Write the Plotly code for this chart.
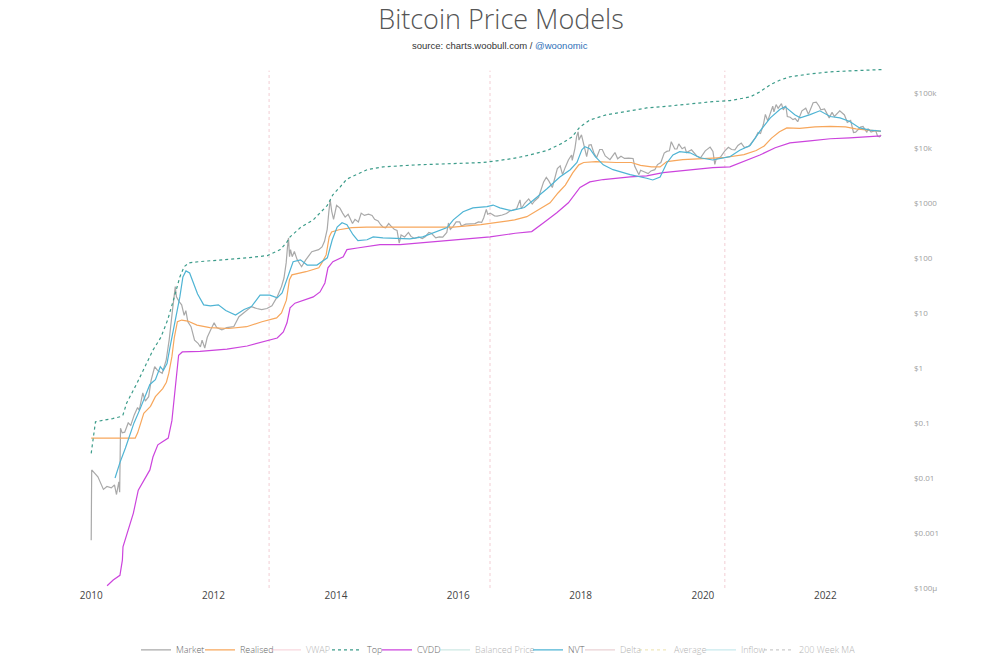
import pandas as pd
import plotly.graph_objects as go

# ---------------- data ----------------
MARKET_DATES = [
    "2010-01-01", "2010-01-04", "2010-02-10", "2010-03-15", "2010-04-05", "2010-05-01", "2010-05-20",
    "2010-06-01", "2010-06-15", "2010-06-20", "2010-06-25", "2010-07-05", "2010-07-20", "2010-08-10",
    "2010-08-25", "2010-09-15", "2010-10-05", "2010-10-15", "2010-11-05", "2010-11-20", "2010-12-10",
    "2010-12-25", "2011-01-15", "2011-02-01", "2011-03-01", "2011-03-25", "2011-04-12", "2011-04-25",
    "2011-05-01", "2011-05-18", "2011-05-25", "2011-06-10", "2011-06-25", "2011-07-10", "2011-07-20",
    "2011-08-01", "2011-08-20", "2011-09-10", "2011-10-01", "2011-10-15", "2011-10-25", "2011-11-10",
    "2011-11-25", "2011-12-15", "2012-01-05", "2012-01-20", "2012-02-20", "2012-03-20", "2012-05-01",
    "2012-06-01", "2012-07-15", "2012-08-15", "2012-09-15", "2012-10-15", "2012-11-15", "2012-12-15",
    "2013-01-15", "2013-02-10", "2013-02-25", "2013-03-10", "2013-03-18", "2013-03-24", "2013-03-30",
    "2013-04-05", "2013-04-15", "2013-04-28", "2013-05-15", "2013-06-10", "2013-07-05", "2013-08-10",
    "2013-09-20", "2013-10-10", "2013-10-25", "2013-11-10", "2013-11-20", "2013-11-28", "2013-12-07",
    "2013-12-18", "2014-01-05", "2014-01-25", "2014-02-10", "2014-02-25", "2014-03-15", "2014-04-10",
    "2014-04-25", "2014-05-15", "2014-06-01", "2014-06-20", "2014-07-15", "2014-08-05", "2014-08-20",
    "2014-09-10", "2014-09-25", "2014-10-10", "2014-10-25", "2014-11-12", "2014-11-25", "2014-12-15",
    "2015-01-01", "2015-01-14", "2015-01-25", "2015-02-15", "2015-03-10", "2015-03-25", "2015-04-15",
    "2015-05-10", "2015-06-01", "2015-06-20", "2015-07-10", "2015-07-25", "2015-08-20", "2015-09-10",
    "2015-10-01", "2015-10-25", "2015-11-04", "2015-11-15", "2015-12-01", "2015-12-20", "2016-01-10",
    "2016-01-20", "2016-02-15", "2016-03-10", "2016-04-10", "2016-05-01", "2016-05-20", "2016-06-01",
    "2016-06-17", "2016-06-25", "2016-07-10", "2016-08-05", "2016-08-20", "2016-09-20", "2016-10-15",
    "2016-11-05", "2016-11-25", "2016-12-15", "2017-01-04", "2017-01-12", "2017-02-01", "2017-02-25",
    "2017-03-18", "2017-04-01", "2017-04-25", "2017-05-10", "2017-05-25", "2017-06-10", "2017-06-25",
    "2017-07-16", "2017-08-01", "2017-08-15", "2017-09-01", "2017-09-15", "2017-10-01", "2017-10-20",
    "2017-11-08", "2017-11-12", "2017-11-28", "2017-12-08", "2017-12-17", "2017-12-22", "2018-01-06",
    "2018-01-20", "2018-02-06", "2018-02-20", "2018-03-05", "2018-03-20", "2018-04-06", "2018-04-25",
    "2018-05-10", "2018-05-28", "2018-06-25", "2018-07-25", "2018-08-10", "2018-08-30", "2018-09-20",
    "2018-10-15", "2018-11-10", "2018-11-20", "2018-12-15", "2018-12-25", "2019-01-15", "2019-02-08",
    "2019-02-25", "2019-03-20", "2019-04-05", "2019-04-25", "2019-05-15", "2019-05-30", "2019-06-15",
    "2019-06-26", "2019-07-17", "2019-07-30", "2019-08-10", "2019-08-30", "2019-09-15", "2019-09-25",
    "2019-10-25", "2019-11-25", "2019-12-18", "2020-01-15", "2020-02-13", "2020-03-01", "2020-03-12",
    "2020-03-20", "2020-04-15", "2020-05-10", "2020-06-01", "2020-06-20", "2020-07-10", "2020-07-28",
    "2020-08-17", "2020-09-05", "2020-10-01", "2020-10-25", "2020-11-10", "2020-11-25", "2020-12-10",
    "2020-12-27", "2021-01-08", "2021-01-22", "2021-02-10", "2021-02-21", "2021-02-28", "2021-03-13",
    "2021-03-25", "2021-04-14", "2021-04-25", "2021-05-10", "2021-05-19", "2021-06-05", "2021-06-22",
    "2021-07-05", "2021-07-20", "2021-08-14", "2021-09-06", "2021-09-22", "2021-10-20", "2021-11-08",
    "2021-11-25", "2021-12-05", "2021-12-27", "2022-01-24", "2022-02-10", "2022-02-24", "2022-03-28",
    "2022-04-25", "2022-05-12", "2022-06-01", "2022-06-18", "2022-07-01", "2022-07-30", "2022-08-14",
    "2022-09-06", "2022-09-12", "2022-10-01", "2022-10-28", "2022-11-09", "2022-11-21", "2022-11-30",
]
MARKET_PRICE = [
    0.00074, 0.014, 0.0105, 0.0062, 0.007, 0.0066, 0.0075,
    0.005, 0.0085, 0.0055, 0.08, 0.066, 0.068, 0.1,
    0.09, 0.14, 0.19, 0.17, 0.35, 0.25, 0.3,
    0.6, 1.05, 0.9, 0.8, 1.4, 3.3, 6.6,
    11, 30, 19.5, 16, 14, 9, 11,
    6.9, 5.6, 3.2, 2.8, 2.4, 3.2, 2.3,
    3.6, 4.9, 6.6, 5.4, 4.9, 5.4, 5.6,
    8.5, 11, 13, 12, 11.5, 12, 13.5,
    19.5, 30, 43, 81, 158, 230, 105,
    141, 105, 130, 92, 69, 92, 129,
    141, 158, 200, 330, 700, 1120, 700,
    500, 900, 800, 650, 550, 620, 420,
    500, 450, 650, 590, 620, 590, 500,
    470, 400, 360, 350, 420, 380, 330,
    315, 185, 260, 240, 290, 245, 225,
    240, 225, 245, 290, 280, 230, 240,
    238, 290, 430, 330, 370, 450, 450,
    380, 410, 415, 420, 450, 440, 530,
    760, 620, 650, 580, 575, 600, 640,
    710, 740, 780, 1130, 780, 980, 1180,
    950, 1080, 1260, 1750, 2400, 2900, 2500,
    1900, 2800, 4200, 4700, 3250, 4400, 6000,
    7400, 5900, 9800, 16000, 19500, 13800, 17200,
    11500, 6900, 11200, 11400, 8200, 6600, 9300,
    9300, 7100, 6100, 8200, 6300, 7000, 6400,
    6500, 6400, 4600, 3250, 3900, 3600, 3400,
    3800, 4000, 4950, 5400, 8000, 8600, 8800,
    12900, 9500, 9500, 11800, 9600, 10300, 8200,
    9200, 7100, 6600, 8800, 10300, 8600, 5000,
    6200, 6800, 8700, 10200, 9300, 9200, 11000,
    12200, 10100, 10600, 13100, 15300, 19000, 18200,
    26500, 40500, 30800, 44800, 57000, 45000, 61000,
    52000, 63500, 49000, 58000, 37000, 36000, 32500,
    34000, 29800, 47000, 52500, 40500, 66000, 67500,
    57000, 49000, 51000, 35000, 44000, 37000, 47000,
    39500, 29000, 31500, 19000, 19300, 23800, 24400,
    19000, 22300, 19400, 20700, 16200, 15800, 17100,
]

REALISED_YEARS = [
    2010.0, 2010.72, 2010.76, 2010.80, 2010.86, 2010.97, 2011.05, 2011.17, 2011.23, 2011.27,
    2011.32, 2011.36, 2011.41, 2011.48, 2011.58, 2011.73, 2011.94, 2012.25, 2012.54, 2012.79,
    2013.03, 2013.11, 2013.19, 2013.24, 2013.28, 2013.51, 2013.72, 2013.77, 2013.84, 2013.89,
    2013.93, 2014.05, 2014.26, 2014.50, 2014.75, 2015.03, 2015.50, 2015.92, 2016.37, 2016.62,
    2016.92, 2017.12, 2017.37, 2017.50, 2017.63, 2017.75, 2017.87, 2017.97, 2018.05, 2018.25,
    2018.58, 2018.83, 2018.98, 2019.16, 2019.30, 2019.41, 2019.67, 2019.92, 2020.33, 2020.67,
    2020.87, 2021.0, 2021.12, 2021.25, 2021.37, 2021.58, 2021.83, 2022.08, 2022.33, 2022.50,
    2022.67, 2022.91,
]
REALISED_PRICE = [
    0.053, 0.053, 0.066, 0.09, 0.15, 0.2, 0.3, 0.42, 0.55, 0.8,
    1.6, 3.6, 6.9, 7.4, 7.1, 6.0, 5.4, 5.2, 5.6, 6.9,
    8.1, 10, 17, 40, 49, 56, 66, 81, 113, 240,
    296, 324, 355, 363, 363, 355, 355, 363, 400, 440,
    490, 560, 820, 1000, 1510, 2100, 3500, 4900, 5400, 5600,
    5400, 5400, 4800, 4500, 4500, 5600, 6100, 6300, 6600, 7500,
    8900, 10800, 15000, 19500, 23000, 22500, 24000, 24500, 24000, 22000,
    21000, 19800,
]

TOP_YEARS = [
    2010.0, 2010.07, 2010.35, 2010.48, 2010.52, 2010.58, 2010.75, 2010.88, 2011.01, 2011.14,
    2011.25, 2011.36, 2011.45, 2011.52, 2011.6, 2011.75, 2012.15, 2012.55, 2012.88, 2013.09,
    2013.2, 2013.25, 2013.42, 2013.63, 2013.86, 2013.95, 2014.07, 2014.18, 2014.51, 2014.77,
    2015.33, 2015.87, 2016.41, 2016.63, 2016.9, 2017.17, 2017.45, 2017.71, 2017.86, 2017.99,
    2018.15, 2018.43, 2018.81, 2019.08, 2019.35, 2019.62, 2019.9, 2020.16, 2020.44, 2020.77,
    2020.93, 2021.1, 2021.26, 2021.42, 2021.75, 2022.08, 2022.4, 2022.73, 2022.96,
]
TOP_PRICE = [
    0.028, 0.105, 0.12, 0.13, 0.14, 0.23, 0.53, 1.05, 2.1, 3.6,
    7.4, 19.5, 45, 69, 81, 85, 92, 100, 110, 141,
    195, 240, 355, 490, 900, 1400, 1950, 2700, 4000, 4500,
    4900, 5100, 5400, 5800, 6400, 7400, 8900, 12300, 15800, 24000,
    32000, 40000, 47000, 53000, 56000, 60000, 66000, 69000, 72000, 84000,
    104000, 140000, 170000, 195000, 220000, 240000, 250000, 262000, 265000,
]

CVDD_YEARS = [
    2010.26, 2010.36, 2010.47, 2010.51, 2010.52, 2010.59, 2010.64, 2010.69, 2010.77, 2010.83,
    2010.92, 2010.96, 2011.01, 2011.09, 2011.16, 2011.26, 2011.32, 2011.37, 2011.41, 2011.43,
    2011.49, 2011.78, 2012.22, 2012.55, 2013.04, 2013.14, 2013.2, 2013.25, 2013.33, 2013.63,
    2013.74, 2013.82, 2013.87, 2013.95, 2014.12, 2014.18, 2014.35, 2014.72, 2015.05, 2015.59,
    2016.14, 2016.52, 2016.93, 2017.2, 2017.4, 2017.61, 2017.8, 2017.99, 2018.15, 2018.37,
    2018.81, 2019.08, 2019.35, 2019.62, 2019.9, 2020.16, 2020.44, 2020.6, 2020.93, 2021.18,
    2021.42, 2021.75, 2022.08, 2022.4, 2022.73, 2022.91,
]
CVDD_PRICE = [
    0.00011, 0.00014, 0.00017, 0.00032, 0.00056, 0.001, 0.0015, 0.0023, 0.006, 0.008,
    0.012, 0.014, 0.024, 0.04, 0.045, 0.053, 0.11, 0.4, 1.2, 1.7,
    1.95, 2.0, 2.2, 2.5, 3.5, 4.5, 6.6, 12.3, 15, 19.5,
    24, 35, 66, 85, 105, 141, 151, 174, 174, 195,
    222, 240, 280, 300, 440, 660, 1000, 1900, 2400, 2650,
    2950, 3100, 3550, 3800, 4150, 4350, 4500, 5300, 7400, 10000,
    12300, 13400, 14600, 15200, 15800, 16500,
]

NVT_YEARS = [
    2010.39, 2010.47, 2010.56, 2010.63, 2010.70, 2010.80, 2010.88, 2010.96, 2011.05, 2011.13,
    2011.18, 2011.24, 2011.29, 2011.37, 2011.45, 2011.5, 2011.55, 2011.61, 2011.67, 2011.74,
    2011.84, 2011.95, 2012.08, 2012.2, 2012.36, 2012.5, 2012.62, 2012.76, 2012.92, 2013.04,
    2013.12, 2013.2, 2013.3, 2013.42, 2013.53, 2013.69, 2013.86, 2013.94, 2014.02, 2014.1,
    2014.18, 2014.28, 2014.36, 2014.51, 2014.61, 2014.77, 2015.05, 2015.21, 2015.42, 2015.65,
    2015.82, 2015.92, 2016.08, 2016.24, 2016.47, 2016.57, 2016.68, 2016.87, 2017.08, 2017.22,
    2017.45, 2017.66, 2017.83, 2017.94, 2018.02, 2018.07, 2018.15, 2018.24, 2018.37, 2018.53,
    2018.81, 2019.08, 2019.18, 2019.3, 2019.41, 2019.51, 2019.62, 2019.79, 2019.95, 2020.16,
    2020.33, 2020.44, 2020.6, 2020.77, 2020.93, 2021.1, 2021.26, 2021.34, 2021.5, 2021.59,
    2021.75, 2021.91, 2022.08, 2022.24, 2022.4, 2022.56, 2022.73, 2022.91,
]
NVT_PRICE = [
    0.01, 0.019, 0.035, 0.06, 0.1, 0.18, 0.3, 0.5, 0.61, 1.05,
    0.9, 1.2, 2.4, 6.6, 19.5, 45, 58, 53, 35, 22,
    14, 13.4, 14, 11, 9.1, 11.5, 13, 21, 21, 18.7,
    23, 40, 85, 92, 74, 74, 100, 213, 363, 435,
    400, 263, 205, 213, 240, 230, 222, 222, 240, 295,
    355, 490, 690, 810, 850, 910, 810, 720, 820, 1100,
    1800, 2950, 4000, 5400, 9200, 10500, 9600, 6900, 4900, 4000,
    3250, 2800, 2600, 2950, 5300, 7400, 8500, 8100, 6600, 6000,
    6600, 6900, 9000, 11000, 20000, 35000, 50000, 56000, 40000, 35000,
    40000, 47000, 37000, 35000, 30000, 23000, 21000, 20000,
]

HALVING_DATES = ["2012-11-28", "2016-07-09", "2020-05-11"]

X_TICK_YEARS = [2010, 2012, 2014, 2016, 2018, 2020, 2022]
Y_TICK_VALUES = [1e-4, 1e-3, 1e-2, 1e-1, 1, 10, 100, 1000, 1e4, 1e5]
Y_TICK_LABELS = ["$100µ", "$0.001", "$0.01", "$0.1", "$1", "$10", "$100", "$1000", "$10k", "$100k"]

# legend entries, in order; LEGEND_TEXT_PX = screen x where each legend label starts
LEGEND_NAMES = ["Market", "Realised", "VWAP", "Top", "CVDD", "Balanced Price", "NVT",
                "Delta", "Average", "Inflow", "200 Week MA"]
LEGEND_TEXT_PX = [176, 240, 306, 367, 417, 475, 568, 620, 674, 741, 799]


def to_dates(years):
    out = []
    for d in years:
        y = int(d)
        start = pd.Timestamp(year=y, month=1, day=1)
        ndays = (pd.Timestamp(year=y + 1, month=1, day=1) - start).days
        out.append(start + pd.Timedelta(days=(d - y) * ndays))
    return out


FIG_W, FIG_H = 973, 658   # page body adds an 8px margin, so the figure lands on the same pixels

fig = go.Figure()

series = {
    "Market": dict(x=pd.to_datetime(MARKET_DATES), y=MARKET_PRICE, color="#a9a9a9", dash="solid", visible=True),
    "Realised": dict(x=to_dates(REALISED_YEARS), y=REALISED_PRICE, color="#f7a75c", dash="solid", visible=True),
    "VWAP": dict(x=[None], y=[None], color="#f3aebd", dash="solid", visible="legendonly"),
    "Top": dict(x=to_dates(TOP_YEARS), y=TOP_PRICE, color="#3c9c8a", dash="dot", visible=True),
    "CVDD": dict(x=to_dates(CVDD_YEARS), y=CVDD_PRICE, color="#cc44dd", dash="solid", visible=True),
    "Balanced Price": dict(x=[None], y=[None], color="#9bd3c9", dash="solid", visible="legendonly"),
    "NVT": dict(x=to_dates(NVT_YEARS), y=NVT_PRICE, color="#4fb4d4", dash="solid", visible=True),
    "Delta": dict(x=[None], y=[None], color="#d6a3a8", dash="solid", visible="legendonly"),
    "Average": dict(x=[None], y=[None], color="#e4d27a", dash="dot", visible="legendonly"),
    "Inflow": dict(x=[None], y=[None], color="#8fd4dc", dash="solid", visible="legendonly"),
    "200 Week MA": dict(x=[None], y=[None], color="#9a9a9a", dash="dot", visible="legendonly"),
}

legend_layouts = {}
for i, name in enumerate(LEGEND_NAMES):
    s = series[name]
    lg = "legend" if i == 0 else f"legend{i + 1}"
    fig.add_trace(go.Scatter(
        x=s["x"], y=s["y"], name=name, mode="lines",
        line=dict(color=s["color"], width=1.2, dash=s["dash"]),
        visible=s["visible"], hoverinfo="skip", legend=lg,
    ))
    legend_layouts[lg] = dict(
        xref="container", x=(LEGEND_TEXT_PX[i] - 8 - 40) / FIG_W, xanchor="left",
        yref="paper", y=-0.119, yanchor="middle",
        orientation="h", itemwidth=30, bgcolor="rgba(0,0,0,0)",
        font=dict(family="Open Sans", size=9, color="#666666", weight=300),
    )

for d in HALVING_DATES:
    fig.add_shape(type="line", xref="x", yref="paper", x0=d, x1=d, y0=0, y1=0.995,
                  line=dict(color="#f2cdd3", width=1, dash="dot"), layer="below")

fig.add_annotation(
    xref="paper", yref="paper", x=0.5155, y=1.044, showarrow=False,
    text='source: charts.woobull.com / <span style="color:#2e6fb7">@woonomic</span>',
    font=dict(family="Liberation Sans, Arial", size=9.5, color="#333333"),
    xanchor="center", yanchor="middle",
)

fig.update_layout(
    width=FIG_W, height=FIG_H,
    paper_bgcolor="white", plot_bgcolor="white",
    margin=dict(l=77, r=91, t=60, b=78, autoexpand=False),
    title=dict(text="Bitcoin Price Models", x=0.5067, y=1 - 12 / FIG_H, xanchor="center", yanchor="middle",
               font=dict(family="Open Sans", size=27, color="#555555", weight=300)),
    showlegend=True,
    xaxis=dict(type="date", range=["2009-11-25", "2023-01-22"],
               tickvals=[f"{y}-01-01" for y in X_TICK_YEARS], ticktext=[str(y) for y in X_TICK_YEARS],
               showgrid=False, zeroline=False, showline=False, ticks="", automargin=False,
               tickfont=dict(family="Open Sans", size=10, color="#444444")),
    yaxis=dict(type="log", side="right", range=[-4, 5.45],
               tickvals=Y_TICK_VALUES, ticktext=Y_TICK_LABELS,
               showgrid=False, zeroline=False, showline=False, ticks="", automargin=False,
               ticklabelstandoff=23,
               tickfont=dict(family="Open Sans", size=8, color="#a0a0a0")),
    **legend_layouts,
)

fig.write_html("out.html")
